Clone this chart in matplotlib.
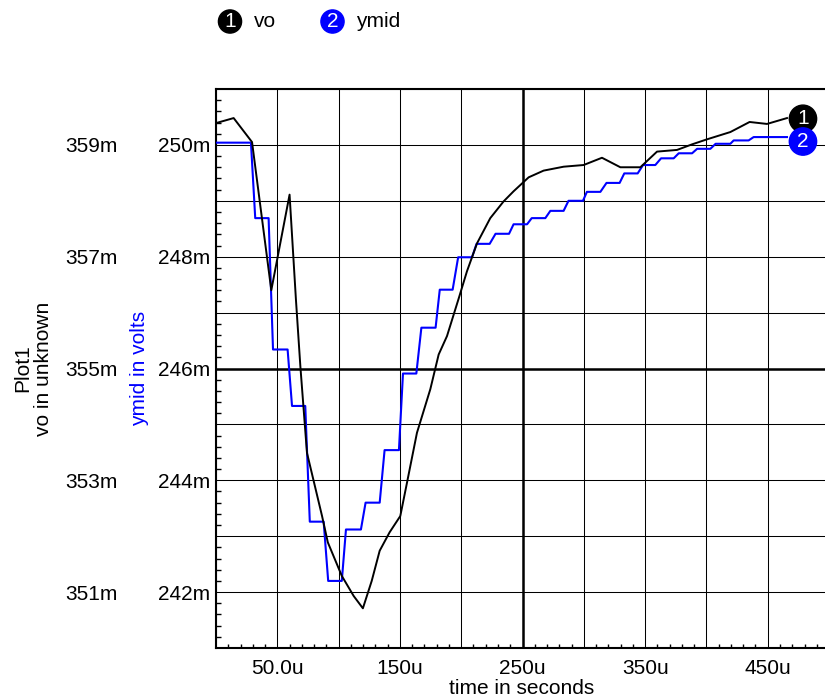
import matplotlib
matplotlib.use('Agg')
import matplotlib.pyplot as plt
from matplotlib.ticker import MultipleLocator, FixedLocator, FuncFormatter, NullLocator

plt.rcParams['font.family'] = ['Liberation Sans', 'DejaVu Sans']
plt.rcParams['font.size'] = 15

# ---- data (time in microseconds, values in millivolts) ----
vo_t = [0, 14.4, 29.4, 45.1, 60.0, 65.2, 68.8, 74.2, 86.5, 91.2, 102.6, 112.3,
        119.8, 127.0, 133.5, 141.6, 150.3, 155.8, 163.9, 174.8, 181.6, 188.4,
        197.9, 204.7, 212.9, 223.7, 234.6, 242.7, 255.0, 267.2, 283.5, 299.8,
        314.8, 329.8, 346.1, 359.7, 376.0, 388.3, 400.5, 419.5, 435.2, 449.4, 465.7]
vo_v = [359.39, 359.48, 359.05, 356.40, 358.11, 356.23, 355.04, 353.49, 352.36,
        351.89, 351.29, 350.93, 350.71, 351.20, 351.74, 352.07, 352.36, 352.96,
        353.85, 354.63, 355.25, 355.58, 356.25, 356.74, 357.24, 357.69, 357.99,
        358.17, 358.42, 358.54, 358.61, 358.64, 358.77, 358.60, 358.60, 358.88,
        358.91, 359.01, 359.10, 359.23, 359.41, 359.375, 359.48]

ymid_t = [0, 28.5, 32.0, 42.9, 46.5, 58.4, 62.0, 72.8, 76.5, 87.8, 91.5, 102.6,
          106.0, 118.2, 122.0, 133.5, 137.5, 149.2, 152.5, 163.4, 167.5, 179.1,
          182.5, 193.0, 197.5, 208.8, 212.5, 223.2, 228.0, 239.0, 242.7, 253.7,
          257.5, 268.6, 272.7, 283.5, 287.5, 299.3, 302.5, 313.5, 318.5, 329.2,
          333.0, 343.9, 348.3, 358.3, 363.0, 373.3, 377.4, 388.3, 392.4, 403.2,
          407.5, 419.5, 422.2, 434.4, 438.5, 465.7]
ymid_v = [250.04, 250.04, 248.69, 248.69, 246.34, 246.34, 245.33, 245.33,
          243.26, 243.26, 242.20, 242.20, 243.12, 243.12, 243.60, 243.60,
          244.54, 244.54, 245.91, 245.91, 246.73, 246.73, 247.41, 247.41,
          247.99, 247.99, 248.23, 248.23, 248.41, 248.41, 248.58, 248.58,
          248.69, 248.69, 248.82, 248.82, 249.00, 249.00, 249.16, 249.16,
          249.32, 249.32, 249.49, 249.49, 249.64, 249.64, 249.76, 249.76,
          249.85, 249.85, 249.93, 249.93, 250.02, 250.02, 250.08, 250.08,
          250.14, 250.14]

x_ticks = [50, 150, 250, 350, 450]
x_labels = ['50.0u', '150u', '250u', '350u', '450u']
ymid_ticks = [242, 244, 246, 248, 250]
ymid_labels = ['242m', '244m', '246m', '248m', '250m']
vo_ticks = [351, 353, 355, 357, 359]
vo_labels = ['351m', '353m', '355m', '357m', '359m']
legend_names = ['vo', 'ymid']

BLUE = '#0000ff'

fig = plt.figure(figsize=(8.25, 7), dpi=100)
W, H = 825, 700
L = 216 / W
B = 1 - 648 / H
T = 1 - 89 / H
ax = fig.add_axes([L, B, 1 - L, T - B])
ax.set_xlim(0, 496.7)
ax.set_ylim(241, 251)

# x axis
xmap = dict(zip(x_ticks, x_labels))
ax.xaxis.set_major_locator(MultipleLocator(50))
ax.xaxis.set_minor_locator(MultipleLocator(10))
ax.xaxis.set_major_formatter(FuncFormatter(lambda v, p: xmap.get(int(round(v)), '')))
# y axis (ymid)
ymap = dict(zip(ymid_ticks, ymid_labels))
ax.yaxis.set_major_locator(MultipleLocator(1))
ax.yaxis.set_minor_locator(MultipleLocator(0.2))
ax.yaxis.set_major_formatter(FuncFormatter(lambda v, p: ymap.get(int(round(v)), '')))

ax.tick_params(axis='both', which='major', length=0)
ax.tick_params(axis='x', which='major', pad=8)
ax.tick_params(axis='y', which='major', pad=4.3)
ax.tick_params(axis='x', which='minor', direction='in', length=3, width=1, color='black')
ax.tick_params(axis='y', which='minor', direction='in', length=3.6, width=1, color='black')

ax.grid(True, which='major', color='black', linewidth=0.75)
ax.axvline(250, color='black', linewidth=1.8, zorder=1.5)
ax.axhline(246, color='black', linewidth=1.8, zorder=1.5)

for s in ['left', 'bottom', 'top']:
    ax.spines[s].set_linewidth(1.5)
ax.spines['right'].set_visible(False)

ax.plot(ymid_t, ymid_v, color=BLUE, linewidth=1.5, zorder=3)

# second axis for vo (labels on the left)
ax2 = ax.twinx()
ax2.set_ylim(350, 360)
vmap = dict(zip(vo_ticks, vo_labels))
ax2.yaxis.tick_left()
ax2.yaxis.set_major_locator(FixedLocator(vo_ticks))
ax2.yaxis.set_minor_locator(NullLocator())
ax2.yaxis.set_major_formatter(FuncFormatter(lambda v, p: vmap.get(int(round(v)), '')))
ax2.tick_params(axis='y', which='major', length=0, pad=70.6)
for s in ax2.spines.values():
    s.set_visible(False)

ax2.plot(vo_t, vo_v, color='black', linewidth=1.4, zorder=3)

# end markers
ax2.annotate('1', xy=(vo_t[-1], vo_v[-1]), xytext=(11.5, -0.5), textcoords='offset points',
             ha='center', va='center', color='white', fontsize=15, zorder=5,
             bbox=dict(boxstyle='circle,pad=0.2', fc='black', ec='black'))
ax2.annotate('2', xy=(ymid_t[-1], ymid_v[-1]), xycoords=ax.transData,
             xytext=(11.5, -3.2), textcoords='offset points',
             ha='center', va='center', color='white', fontsize=15, zorder=6,
             bbox=dict(boxstyle='circle,pad=0.2', fc=BLUE, ec=BLUE))

# axis titles
fig.text(33 / W, 1 - 368.5 / H, 'Plot1\nvo in unknown', rotation=90, ha='center',
         va='center', multialignment='center', color='black', linespacing=1.15)
fig.text(140 / W, 1 - 368.5 / H, 'ymid in volts', rotation=90, ha='center',
         va='center', color=BLUE)
fig.text(522 / W, 1 - 688 / H, 'time in seconds', ha='center', va='center')

# legend at top
fig.text(230 / W, 1 - 21.5 / H, '1', ha='center', va='center', color='white',
         bbox=dict(boxstyle='circle,pad=0.1', fc='black', ec='black'))
fig.text(254 / W, 1 - 21.5 / H, legend_names[0], ha='left', va='center')
fig.text(332.5 / W, 1 - 21.5 / H, '2', ha='center', va='center', color='white',
         bbox=dict(boxstyle='circle,pad=0.1', fc=BLUE, ec=BLUE))
fig.text(356 / W, 1 - 21.5 / H, legend_names[1], ha='left', va='center')

fig.savefig('out.png', dpi=100)
